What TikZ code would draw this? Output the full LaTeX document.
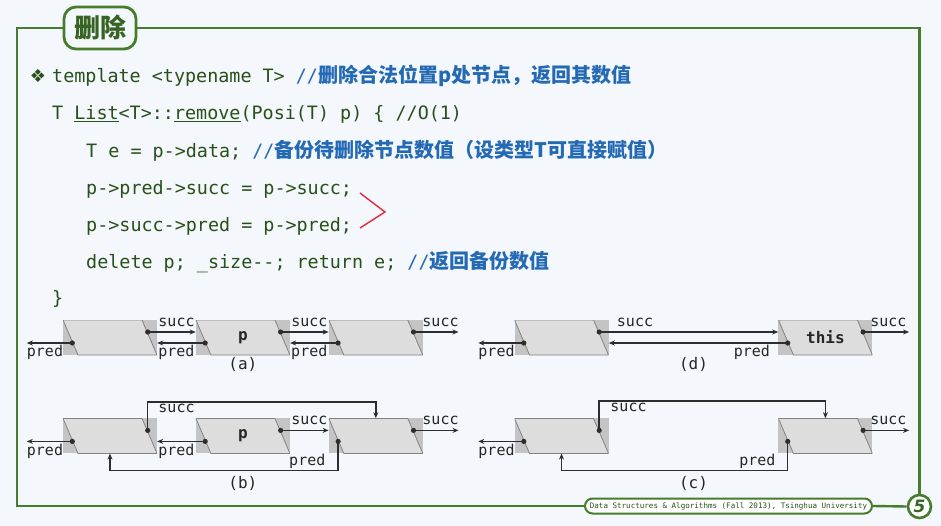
\documentclass[tikz,border=0pt]{standalone}
\usepackage{fontspec}
\setmonofont{DejaVu Sans Mono}
\newfontfamily\cjk{Noto Sans CJK SC}
\newfontfamily\symfont{DejaVu Sans}
\usetikzlibrary{arrows.meta, positioning, calc}

\definecolor{bgcol}{RGB}{244,247,251}
\definecolor{framegreen}{RGB}{70,125,45}
\definecolor{titlegreen}{RGB}{55,100,35}
\definecolor{codegreen}{RGB}{40,80,25}
\definecolor{cmtblue}{RGB}{35,105,180}
\definecolor{cellback}{RGB}{196,196,196}
\definecolor{cellface}{RGB}{221,221,221}
\definecolor{celledge}{RGB}{130,130,130}
\definecolor{linkcol}{RGB}{45,45,45}
\definecolor{markred}{RGB}{230,40,60}

\newcommand{\cmnt}[1]{{\color{cmtblue}//{\cjk\bfseries\fontsize{20}{22}\selectfont #1}}}

\begin{document}
\begin{tikzpicture}[x=1pt, y=-1pt,
        cell/.style={rectangle, fill=cellback, minimum width=94pt, minimum height=35pt, inner sep=0pt,
            text=black!85, font=\ttfamily\bfseries\fontsize{16}{18}\selectfont,
            path picture={\filldraw[fill=cellface, draw=celledge, line width=0.8pt]
                (path picture bounding box.north west) -- ([xshift=-15pt]path picture bounding box.north east)
                -- (path picture bounding box.south east) -- ([xshift=15pt]path picture bounding box.south west) -- cycle;}},
        link/.style={draw=linkcol, line width=1.5pt, -{Stealth[length=6pt, width=5pt]}},
        lbl/.style={inner sep=1.5pt, text=black!85, font=\ttfamily\fontsize{15}{16}\selectfont},
        captext/.style={inner sep=1.5pt, text=black!85, font=\ttfamily\fontsize{16}{18}\selectfont},
        code/.style={anchor=base west, inner sep=0pt, text=codegreen, font=\ttfamily\fontsize{18.4}{22}\selectfont},
        frame/.style={draw=framegreen, line width=2.4pt},
        >=Stealth
    ]
    \fill[bgcol] (0,0) rectangle (941,526);
    \useasboundingbox (0,0) rectangle (941,526);

    % slide frame
    \node[draw=framegreen, line width=2.8pt, rounded corners=12pt, fill=bgcol, minimum width=72pt, minimum height=42pt,
        text=titlegreen, font=\cjk\bfseries\fontsize{26}{28}\selectfont] (title) at (100,28) {删除};
    \node[draw=framegreen, line width=2pt, rounded corners=7.5pt, fill=white, minimum width=287pt, minimum height=15pt,
        inner sep=0pt, text=codegreen, font=\ttfamily\fontsize{7.55}{9}\selectfont] (foot) at (728.5,506)
        {Data Structures \& Algorithms (Fall 2013), Tsinghua University};
    \node[circle, draw=framegreen, line width=2.6pt, fill=white, minimum size=23pt, inner sep=0pt,
        text=titlegreen, font=\symfont\bfseries\itshape\fontsize{17}{17}\selectfont] (num) at (919.5,506.5) {5};
    \draw[frame] (title.west) -- (17,28) -- (17,506) -- (foot.west);
    \draw[frame] (foot.east) -- (num.west);
    \draw[frame] (num.north) -- (919.5,28) -- (title.east);

    % code
    \node[code, anchor=base, font=\symfont\fontsize{18}{18}\selectfont] (bullet) at (38,83) {❖};
    \node[code] (l1) at (52,83) {template <typename T> \cmnt{删除合法位置p处节点，返回其数值}};
    \node[code] (l2) at (52,120) {T \underline{List}<T>::\underline{remove}(Posi(T) p) \{ //O(1)};
    \node[code] (l3) at (86,158) {T e = p->data; \cmnt{备份待删除节点数值（设类型T可直接赋值）}};
    \node[code] (l4) at (86,195) {p->pred->succ = p->succ;};
    \node[code] (l5) at (86,232) {p->succ->pred = p->pred;};
    \node[code] (l6) at (86,269) {delete p; \_size-{}-; return e; \cmnt{返回备份数值}};
    \node[code] (l7) at (52,304) {\}};
    \draw[draw=markred, line width=1.4pt] (360,193) -- (385,212) -- (360,228);

    % list nodes
    \node[cell] (a1) at (110,337.5) {};
    \node[cell, right=38.5pt of a1] (a2) {p};
    \node[cell, right=38.5pt of a2] (a3) {};
    \node[cell] (d1) at (561.5,337.5) {};
    \node[cell, right=169.5pt of d1] (d2) {this};
    \node[cell, below=63pt of a1] (b1) {};
    \node[cell, right=38.5pt of b1] (b2) {p};
    \node[cell, right=38.5pt of b2] (b3) {};
    \node[cell, below=63pt of d1] (c1) {};
    \node[cell, below=63pt of d2] (c2) {};

    \node[captext, below=0pt of a2] (capa) {(a)};
    \node[captext, below=21pt of b2] (capb) {(b)};
    \path (d1.south) -- (d2.south) node[captext, midway, below=0pt] (capd) {(d)};
    \path (c1.south) -- (c2.south) node[captext, midway, below=21pt] (capc) {(c)};

    \foreach \n in {a1,a2,a3,b1,b2,b3,d1,d2,c1,c2} {
        \coordinate (\n s) at ($(\n.east)+(-9.5,-5.5)$);
        \coordinate (\n p) at ($(\n.west)+(9.5,5.5)$);
    }
    \coordinate (a0) at ($(a1p)+(-45.5,0)$);
    \coordinate (a4) at ($(a3s)+(45,0)$);
    \coordinate (b0) at ($(b1p)+(-45.5,0)$);
    \coordinate (b4) at ($(b3s)+(45,0)$);
    \coordinate (d0) at ($(d1p)+(-45.5,0)$);
    \coordinate (d3) at ($(d2s)+(46,0)$);
    \coordinate (c0) at ($(c1p)+(-45.5,0)$);
    \coordinate (c3) at ($(c2s)+(46,0)$);

    % (a)
    \draw[link] (a1p) -- node[lbl, below, pos=0.6] (pa1) {pred} (a0);
    \draw[link] (a1s) -- node[lbl, above=3pt, pos=0.6] (sa1) {succ} (a1s -| a2.west);
    \draw[link] (a2p) -- node[lbl, below, pos=0.6] (pa2) {pred} (a2p -| a1.east);
    \draw[link] (a2s) -- node[lbl, above=3pt, pos=0.6] (sa2) {succ} (a2s -| a3.west);
    \draw[link] (a3p) -- node[lbl, below, pos=0.6] (pa3) {pred} (a3p -| a2.east);
    \draw[link] (a3s) -- node[lbl, above=3pt, pos=0.6] (sa3) {succ} (a4);
    % (d)
    \draw[link] (d1p) -- node[lbl, below, pos=0.6] (pd1) {pred} (d0);
    \draw[link] (d1s) -- node[lbl, above=3pt, pos=0.2] (sd1) {succ} (d1s -| d2.west);
    \draw[link] (d2p) -- node[lbl, below, pos=0.2] (pd2) {pred} (d2p -| d1.east);
    \draw[link] (d2s) -- node[lbl, above=3pt, pos=0.55] (sd2) {succ} (d3);
    % (b)
    \draw[link] (b1p) -- node[lbl, below, pos=0.6] (pb1) {pred} (b0);
    \draw[link] (b1s) |- node[lbl, anchor=north west, xshift=8.5pt, pos=0.5] (sb1) {succ} ($(b3.north)+(0,-16)$) -- (b3.north);
    \draw[link] (b2p) -- node[lbl, below, pos=0.6] (pb2) {pred} (b2p -| b1.east);
    \draw[link] (b2s) -- node[lbl, above=3pt, pos=0.6] (sb2) {succ} (b2s -| b3.west);
    \draw[link] (b3p) |- node[lbl, anchor=south east, xshift=-10.5pt, pos=0.5] (pb3) {pred} ($(b1.south)+(0,17)$) -- (b1.south);
    \draw[link] (b3s) -- node[lbl, above=3pt, pos=0.6] (sb3) {succ} (b4);
    % (c)
    \draw[link] (c1p) -- node[lbl, below, pos=0.6] (pc1) {pred} (c0);
    \draw[link] (c1s) |- node[lbl, anchor=north west, xshift=9pt, pos=0.5] (sc1) {succ} ($(c2.north)+(0,-17)$) -- (c2.north);
    \draw[link] (c2p) |- node[lbl, anchor=south east, xshift=-10pt, pos=0.5] (pc2) {pred} ($(c1.south)+(0,17)$) -- (c1.south);
    \draw[link] (c2s) -- node[lbl, above=3pt, pos=0.55] (sc2) {succ} (c3);

    \foreach \n in {a1,a2,a3,b1,b2,b3,d1,d2,c1,c2} {
        \fill[linkcol] (\n s) circle (2.6pt);
        \fill[linkcol] (\n p) circle (2.6pt);
    }
\end{tikzpicture}
\end{document}
